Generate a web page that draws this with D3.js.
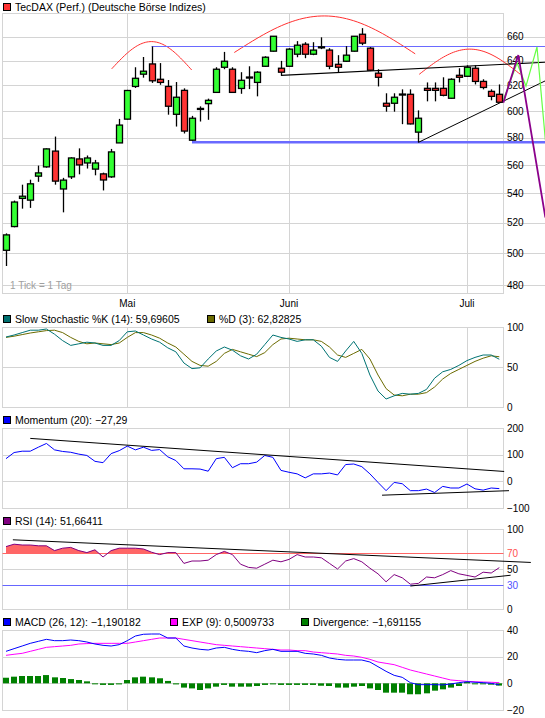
<!DOCTYPE html>
<html><head><meta charset="utf-8">
<script src="https://cdn.jsdelivr.net/npm/d3@7"></script>
<style>
html,body{margin:0;padding:0;background:#fff;}
svg{display:block;}
text{font-family:"Liberation Sans",Arial,sans-serif;font-size:10.5px;fill:#000;}
text.ax{font-size:10px;}
</style></head><body>
<svg id="c" width="545" height="718"></svg>
<script>
// ---------- DATA ----------
const candleOpen  = [502,517.5,536.5,535.3,552,558.6,570,543,551.5,564.3,561.4,557,553.6,551.5,576,593.8,619.2,629,637.3,624.9,619.2,597.5,616.1,578,601.5,605.7,614.5,634.6,633,617.6,626.3,622.4,635.4,647.8,633.8,635.4,645.3,653.6,645.3,651,648.7,637,639.5,647.8,662,650.3,629.8,606,606,612.8,613,584,617.7,617.7,617.7,609.9,628.1,627.3,633.8,623.2,615.3,613];
const candleHigh  = [513,535,546,549.5,559.5,572,580.7,550.8,565.5,572,566.8,563.6,554.5,571.6,594,616.5,634.6,643,651.7,638,624.3,622.7,617.7,596.3,603.6,609.6,634.6,647.2,634.6,630.6,635.4,631.4,643.6,660.5,639.8,650.3,656.2,655.3,655.3,659.4,650.3,644.5,652,660.5,667.2,651.2,633,613.8,613.8,616.9,616.9,600.5,622.4,622.4,626.5,625.7,633.8,636.2,636.2,624.9,616.9,620.8];
const candleLow   = [492,517,529.5,530,548,558,546,527,550,553.3,557.4,552.6,542,550.8,576,593.5,618,626.2,622,620.5,597.2,588.2,583,577.5,592,593.3,614,633,614,613.4,617.1,611.4,635,647.5,628,635,642.8,642,644.5,649.5,633,630.6,639,647.5,652.8,631.5,619.2,599.5,599.5,590,589.8,576.4,607.5,607.5,611.4,609.5,622.4,627,620.8,616.9,608.3,606.5];
const candleClose = [512,534,538,546.6,554.3,571.6,548.5,549.2,565,560,565,561.4,549.3,569.4,589.3,616,625.7,631.4,623.7,622.4,603.7,610.7,584.8,594.5,602,608.3,633,639.5,614.5,624.1,626.7,630.6,642.8,660.3,630.6,649.5,652.8,645.3,648.7,651.4,635.4,634.6,644.5,660.3,654.5,632.2,626.5,603.7,610.7,613.2,590.2,594.5,616.1,616.1,612.2,624.9,626.5,634.6,623.2,618.4,611.4,606.8];

const stochK = [87.5,90,93,96,96,97.5,91,83,77,79,81,80,77,77,83,94,95,90,85,81,74,69,55,48,49,60,70,75,71,64,60,66,78,90,87,85,82,84,84,76,62,57,70,82,67,40,20,10,14,17,16,17,22,36,44,47,52,58,62,65,65,59.7];
const stochD = [87,88.5,90.5,92.5,94,95.5,96,93,87,82,79,80,79,78,80,87,93,93,90,86,80,75,66,57,52,51,57,67,72,69,66,63,68,78,85,86,85,84,84,82,75,65,62,67,72,60,40,23,15,14,16,16,18,25,35,42,47,52,57,61,64,62.8];
const momentum = [85,108,113,113,128,142,118,112,109,102,97,75,70,104,115,132,118,128,116,119,92,78,47,47,46,38,85,90,51,66,66,72,97,90,41,34,28,13,28,28,31,24,63,65,55,28,-4,-35,-4,-9,-35,-35,-29,-42,-19,-25,-25,-10,-28,-33,-25,-27.3];
const rsi = [78,81,80,80,79,79,73,76,77,73,70.5,74,65,73,76,76,76,75,71,68,70.5,70.5,57,60,60,61,68,72,68,56,52,51,56,61,59,62,68,65,65,64,57,50,60,63,59,51,44,34,43,39,31,32,40,39,43,48,44,42,40,46,45,51.7];
const macd = [24,26,28,30,31.5,33,32,32,32.5,32,31,29.5,28.5,28,29,32,35.5,36.8,37,37,34,34,28,26.5,25.5,25,26.5,27,25.5,24.5,24,23,24.5,25.5,24,24,24,22.5,22,21,19,18,17.5,17.5,17.5,16,12.5,9,6,4.5,0.5,-1,-1,-1,-1.2,-0.5,0.5,1.2,0.8,0.5,0,-1.19];
const macdExp = [21,21.8,22.5,24,25.5,27,27.5,28,28.5,29.5,29.8,30,30,30,30,30,31,32,33,34,34,34,33,32,31,30,29,28.5,28,27.5,27,26.5,26,25.5,25,25,24.5,24.5,23.5,23,22.5,22,21,20.5,19.5,18,16,15,14,12,10,8.5,7,5.5,4,2.5,2,1.5,1.2,1,0.8,0.5];
const macdDiv = [4.2,5,5.5,5.5,5.5,6.2,4.5,4,3.2,2.5,1.5,0,-1.2,-1.2,-0.8,2.5,4.5,5,4.5,3.8,1.8,-0.8,-3.2,-3.8,-5,-3.8,-2.5,-1.2,-2.5,-2.5,-2.5,-2,-1.2,-0.8,-1.2,-1.2,-1.2,-1.2,-1.2,-1.8,-2,-3.2,-3.2,-2.5,-2,-3.8,-5,-7,-7,-7,-8.2,-8.2,-7.5,-5.5,-4.5,-3.2,-2,1,-0.5,-0.5,-1,-1.69];

const monthLabels = ["Mai","Juni","Juli"];
const monthIndex  = [15,35,57];
const priceTicks  = [660,640,620,600,580,560,540,520,500,480];
const stochTicks = [100,50,0];
const momTicks = [200,100,0,-100];
const rsiTicks = [100,70,50,30,0];
const macdTicks = [40,20,0,-20];

// annotation lines (index, value)
const resistanceLine = [[18,651.7],[66.7,651.7]];
const supportLine    = [[23,576.4],[66.7,576.4]];
const upperTrend     = [[34,628.1],[66.7,638.7]];
const lowerTrend     = [[51,576.4],[66.7,623.7]];
const arcs = [ // startIdx, endIdx, startVal, endVal, peakVal
  [13.07,22.96,633.3,632.4,655.8],
  [28.23,50.6,646.7,645.6,677.7],
  [51.1,63.6,628.9,628.9,649.5]
];
const projGreen  = [[61.5,608.5],[63.2,638.1],[64.3,619.5],[65.66,651.3],[66.7,578]];
const projPurple = [[61.5,606.5],[63.35,644.6],[66.7,523.5]];
const momUpper = [[3,161],[61.6,37]];
const momLower = [[46.5,-52],[62.2,-35]];
const rsiUpper = [[0.85,86.5],[64.9,58.2]];
const rsiLower = [[50,28.7],[62.4,42.2]];

// ---------- DRAW ----------
const svg = d3.select('#c');
const GRID = '#d4d4d4';
const PL = 2.5, PR = 503.5;
const N = candleOpen.length;
const x = d3.scaleLinear().domain([0, N-1]).range([6, 499.3]);
const yP = d3.scaleLog().domain([475.1, 680]).range([293.3, 13.3]);

function frame(top, bottom, ticks, yS, extend, labelColors){
  const g = svg.append('g');
  ticks.forEach(t=>{
    const yy = Math.round(yS(t))+0.5;
    g.append('line').attr('x1',PL).attr('x2',extend?545:PR).attr('y1',yy).attr('y2',yy)
      .attr('stroke',GRID).attr('stroke-width',1);
  });
  monthIndex.forEach(m=>{
    const xx = Math.round(x(m))+0.5;
    g.append('line').attr('x1',xx).attr('x2',xx).attr('y1',top).attr('y2',bottom)
      .attr('stroke',GRID);
  });
  g.append('rect').attr('x',PL).attr('y',Math.round(top)+0.5).attr('width',PR-PL)
    .attr('height',Math.round(bottom)-Math.round(top)).attr('fill','none').attr('stroke',GRID);
  ticks.forEach((t,k)=>{
    g.append('text').attr('class','ax').attr('x',507).attr('y',yS(t)).attr('dy','0.36em')
      .style('fill', labelColors && labelColors[k] ? labelColors[k] : '#000')
      .text(String(t).replace('-','\u2212'));
  });
  return g;
}
function legendItem(xp, yBase, color, label){
  svg.append('rect').attr('x',xp+0.5).attr('y',yBase-7.5).attr('width',7).attr('height',7)
    .attr('fill',color).attr('stroke','#000');
  svg.append('text').attr('x',xp+12).attr('y',yBase).text(label);
}
function polyline(pts, yS, color, w){
  return svg.append('path').attr('d', d3.line().x(d=>x(d[0])).y(d=>yS(d[1]))(pts))
    .attr('fill','none').attr('stroke',color).attr('stroke-width',w||1);
}

// ===== Main price panel =====
legendItem(3, 11, '#ff3333', 'TecDAX (Perf.) (Deutsche Börse Indizes)');
frame(13.3, 293.3, priceTicks, yP, true);
svg.append('text').attr('class','ax').attr('x',10).attr('y',288.5).style('fill','#a0a0a0').text('1 Tick = 1 Tag');
monthLabels.forEach((m,k)=>{
  svg.append('text').attr('class','ax').attr('x',x(monthIndex[k])).attr('y',306.5).attr('text-anchor','middle').text(m);
});

arcs.forEach(a=>{
  const [s,e,vs,ve,vp] = a;
  const pts = d3.range(0,1.0001,0.02).map(t=>{
    const base = yP(vs)+(yP(ve)-yP(vs))*t;
    const mid = (yP(vs)+yP(ve))/2;
    const h = mid - yP(vp);
    return [x(s+(e-s)*t), base - h*Math.sin(Math.PI*t)];
  });
  svg.append('path').attr('d', d3.line()(pts)).attr('fill','none').attr('stroke','#ff3030').attr('stroke-width',1);
});
polyline(resistanceLine, yP, '#6a6aff', 1.2);
polyline(supportLine, yP, '#6a6aff', 2.5);
polyline(upperTrend, yP, '#000', 1.2);
polyline(lowerTrend, yP, '#000', 1);

const cg = svg.append('g');
d3.range(N).forEach(i=>{
  const cx = Math.round(x(i));
  const o=candleOpen[i], c=candleClose[i];
  cg.append('line').attr('x1',cx+0.5).attr('x2',cx+0.5)
    .attr('y1',yP(candleHigh[i])).attr('y2',yP(candleLow[i])).attr('stroke','#000').attr('stroke-width',1.3);
  const yt = yP(Math.max(o,c)), yb = yP(Math.min(o,c));
  const h = Math.max(1, yb-yt);
  cg.append('rect').attr('x',cx-3+0.5).attr('y',yt).attr('width',6).attr('height',h)
    .attr('fill', c>=o ? '#33ff33' : '#ff3333').attr('stroke','#000').attr('stroke-width',1.3);
});
polyline(projGreen, yP, '#66ff44', 1.2);
polyline(projPurple, yP, '#8b008b', 1.8);

// ===== Stochastic =====
const yS = d3.scaleLinear().domain([0,100]).range([407,327]);
legendItem(3, 323, '#006f6f', 'Slow Stochastic %K (14): 59,69605');
legendItem(207, 323, '#6b6b00', '%D (3): 62,82825');
frame(327, 407, stochTicks, yS, false);
svg.append('path').attr('d', d3.line().x((d,i)=>x(i)).y(d=>yS(d))(stochD)).attr('fill','none').attr('stroke','#6b6b00');
svg.append('path').attr('d', d3.line().x((d,i)=>x(i)).y(d=>yS(d))(stochK)).attr('fill','none').attr('stroke','#007373');

// ===== Momentum =====
const yM = d3.scaleLinear().domain([-100,200]).range([508,428]);
legendItem(3, 424, '#0000ff', 'Momentum (20): \u221227,29');
frame(428, 508, momTicks, yM, false);
svg.append('path').attr('d', d3.line().x((d,i)=>x(i)).y(d=>yM(d))(momentum)).attr('fill','none').attr('stroke','#0000ff');
polyline(momUpper, yM, '#000', 1);
polyline(momLower, yM, '#000', 1);

// ===== RSI =====
const yR = d3.scaleLinear().domain([0,100]).range([609,529]);
legendItem(3, 525, '#800080', 'RSI (14): 51,66411');
frame(529, 609, rsiTicks, yR, false, [null,'#ff5050',null,'#5050ff',null]);
svg.append('clipPath').attr('id','above70').append('rect').attr('x',0).attr('y',0).attr('width',545).attr('height',yR(70));
svg.append('path').attr('clip-path','url(#above70)')
  .attr('d', d3.area().x((d,i)=>x(i)).y0(yR(70)).y1(d=>yR(d))(rsi)).attr('fill','#ff6666');
[[70,'#ff6666'],[30,'#6666ff']].forEach(([v,c])=>{
  const yy = Math.round(yR(v))+0.5;
  svg.append('line').attr('x1',PL).attr('x2',PR).attr('y1',yy).attr('y2',yy).attr('stroke',c);
});
svg.append('path').attr('d', d3.line().x((d,i)=>x(i)).y(d=>yR(d))(rsi)).attr('fill','none').attr('stroke','#800080');
polyline(rsiUpper, yR, '#000', 1);
polyline(rsiLower, yR, '#000', 1);

// ===== MACD =====
const yD = d3.scaleLinear().domain([-20,40]).range([710,630]);
legendItem(3, 626, '#0000ff', 'MACD (26, 12): \u22121,190182');
legendItem(170, 626, '#ff00ff', 'EXP (9): 0,5009733');
legendItem(301, 626, '#008000', 'Divergence: \u22121,691155');
frame(630, 710, macdTicks, yD, false);
macdDiv.forEach((v,i)=>{
  const y0 = yD(0), y1 = yD(v);
  svg.append('rect').attr('x', Math.round(x(i))-3).attr('y', Math.min(y0,y1)).attr('width',6)
    .attr('height', Math.max(1,Math.abs(y1-y0))).attr('fill','#008000');
});
svg.append('path').attr('d', d3.line().x((d,i)=>x(i)).y(d=>yD(d))(macdExp)).attr('fill','none').attr('stroke','#ff00ff');
svg.append('path').attr('d', d3.line().x((d,i)=>x(i)).y(d=>yD(d))(macd)).attr('fill','none').attr('stroke','#0000ff');
</script>
</body></html>
